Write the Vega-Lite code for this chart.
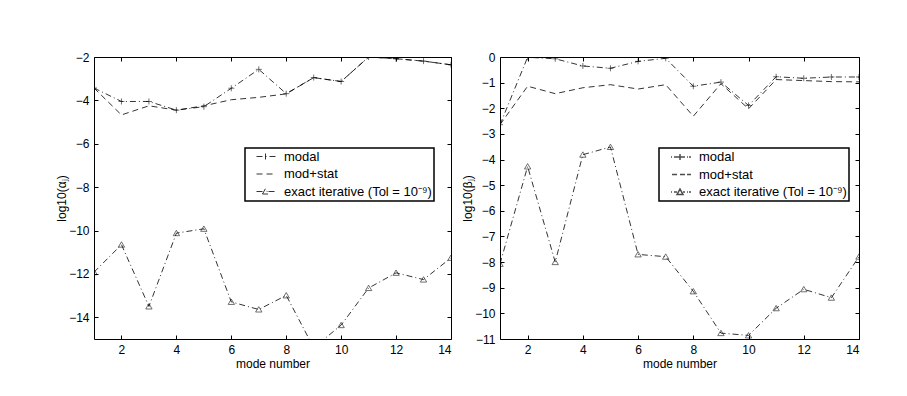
{
  "$schema": "https://vega.github.io/schema/vega-lite/v6.json",
  "background": "white",
  "padding": {"left": 55, "top": 50, "right": 5, "bottom": 5},
  "datasets": {
    "alpha": [
      {"mode": 1, "series": "modal", "value": -3.43},
      {"mode": 2, "series": "modal", "value": -4.05},
      {"mode": 3, "series": "modal", "value": -4.05},
      {"mode": 4, "series": "modal", "value": -4.45},
      {"mode": 5, "series": "modal", "value": -4.29},
      {"mode": 6, "series": "modal", "value": -3.44},
      {"mode": 7, "series": "modal", "value": -2.57},
      {"mode": 8, "series": "modal", "value": -3.69},
      {"mode": 9, "series": "modal", "value": -2.95},
      {"mode": 10, "series": "modal", "value": -3.13},
      {"mode": 11, "series": "modal", "value": -2.0},
      {"mode": 12, "series": "modal", "value": -2.08},
      {"mode": 13, "series": "modal", "value": -2.19},
      {"mode": 14, "series": "modal", "value": -2.36},
      {"mode": 1, "series": "mod+stat", "value": -3.43},
      {"mode": 2, "series": "mod+stat", "value": -4.67},
      {"mode": 3, "series": "mod+stat", "value": -4.25},
      {"mode": 4, "series": "mod+stat", "value": -4.45},
      {"mode": 5, "series": "mod+stat", "value": -4.25},
      {"mode": 6, "series": "mod+stat", "value": -3.97},
      {"mode": 7, "series": "mod+stat", "value": -3.86},
      {"mode": 8, "series": "mod+stat", "value": -3.7},
      {"mode": 9, "series": "mod+stat", "value": -2.95},
      {"mode": 10, "series": "mod+stat", "value": -3.13},
      {"mode": 11, "series": "mod+stat", "value": -2.0},
      {"mode": 12, "series": "mod+stat", "value": -2.08},
      {"mode": 13, "series": "mod+stat", "value": -2.19},
      {"mode": 14, "series": "mod+stat", "value": -2.36},
      {"mode": 1, "series": "exact iterative (Tol = 10⁻⁹)", "value": -11.92},
      {"mode": 2, "series": "exact iterative (Tol = 10⁻⁹)", "value": -10.65},
      {"mode": 3, "series": "exact iterative (Tol = 10⁻⁹)", "value": -13.5},
      {"mode": 4, "series": "exact iterative (Tol = 10⁻⁹)", "value": -10.12},
      {"mode": 5, "series": "exact iterative (Tol = 10⁻⁹)", "value": -9.92},
      {"mode": 6, "series": "exact iterative (Tol = 10⁻⁹)", "value": -13.29},
      {"mode": 7, "series": "exact iterative (Tol = 10⁻⁹)", "value": -13.64},
      {"mode": 8, "series": "exact iterative (Tol = 10⁻⁹)", "value": -12.99},
      {"mode": 9, "series": "exact iterative (Tol = 10⁻⁹)", "value": -15.4},
      {"mode": 10, "series": "exact iterative (Tol = 10⁻⁹)", "value": -14.36},
      {"mode": 11, "series": "exact iterative (Tol = 10⁻⁹)", "value": -12.65},
      {"mode": 12, "series": "exact iterative (Tol = 10⁻⁹)", "value": -11.95},
      {"mode": 13, "series": "exact iterative (Tol = 10⁻⁹)", "value": -12.26},
      {"mode": 14, "series": "exact iterative (Tol = 10⁻⁹)", "value": -11.26}
    ],
    "beta": [
      {"mode": 1, "series": "modal", "value": -2.64},
      {"mode": 2, "series": "modal", "value": -0.01},
      {"mode": 3, "series": "modal", "value": -0.07},
      {"mode": 4, "series": "modal", "value": -0.35},
      {"mode": 5, "series": "modal", "value": -0.44},
      {"mode": 6, "series": "modal", "value": -0.17},
      {"mode": 7, "series": "modal", "value": -0.05},
      {"mode": 8, "series": "modal", "value": -1.14},
      {"mode": 9, "series": "modal", "value": -0.98},
      {"mode": 10, "series": "modal", "value": -1.89},
      {"mode": 11, "series": "modal", "value": -0.77},
      {"mode": 12, "series": "modal", "value": -0.83},
      {"mode": 13, "series": "modal", "value": -0.78},
      {"mode": 14, "series": "modal", "value": -0.78},
      {"mode": 1, "series": "mod+stat", "value": -2.64},
      {"mode": 2, "series": "mod+stat", "value": -1.14},
      {"mode": 3, "series": "mod+stat", "value": -1.43},
      {"mode": 4, "series": "mod+stat", "value": -1.2},
      {"mode": 5, "series": "mod+stat", "value": -1.08},
      {"mode": 6, "series": "mod+stat", "value": -1.25},
      {"mode": 7, "series": "mod+stat", "value": -1.08},
      {"mode": 8, "series": "mod+stat", "value": -2.31},
      {"mode": 9, "series": "mod+stat", "value": -1.04},
      {"mode": 10, "series": "mod+stat", "value": -2.02},
      {"mode": 11, "series": "mod+stat", "value": -0.88},
      {"mode": 12, "series": "mod+stat", "value": -0.92},
      {"mode": 13, "series": "mod+stat", "value": -0.96},
      {"mode": 14, "series": "mod+stat", "value": -0.97},
      {"mode": 1, "series": "exact iterative (Tol = 10⁻⁹)", "value": -8.07},
      {"mode": 2, "series": "exact iterative (Tol = 10⁻⁹)", "value": -4.27},
      {"mode": 3, "series": "exact iterative (Tol = 10⁻⁹)", "value": -8.0},
      {"mode": 4, "series": "exact iterative (Tol = 10⁻⁹)", "value": -3.81},
      {"mode": 5, "series": "exact iterative (Tol = 10⁻⁹)", "value": -3.51},
      {"mode": 6, "series": "exact iterative (Tol = 10⁻⁹)", "value": -7.7},
      {"mode": 7, "series": "exact iterative (Tol = 10⁻⁹)", "value": -7.79},
      {"mode": 8, "series": "exact iterative (Tol = 10⁻⁹)", "value": -9.14},
      {"mode": 9, "series": "exact iterative (Tol = 10⁻⁹)", "value": -10.77},
      {"mode": 10, "series": "exact iterative (Tol = 10⁻⁹)", "value": -10.86},
      {"mode": 11, "series": "exact iterative (Tol = 10⁻⁹)", "value": -9.8},
      {"mode": 12, "series": "exact iterative (Tol = 10⁻⁹)", "value": -9.06},
      {"mode": 13, "series": "exact iterative (Tol = 10⁻⁹)", "value": -9.39},
      {"mode": 14, "series": "exact iterative (Tol = 10⁻⁹)", "value": -7.79}
    ]
  },
  "hconcat": [
    {
      "width": 357,
      "height": 282,
      "data": {"name": "alpha"},
      "layer": [
        {
          "mark": {"type": "line", "stroke": "black", "strokeWidth": 0.8, "clip": true},
          "encoding": {
            "x": {"field": "mode", "type": "quantitative", "scale": {"domain": [1, 14], "nice": false, "zero": false},
                  "axis": {"orient": "bottom", "values": [2, 4, 6, 8, 10, 12, 14], "title": "mode number", "titlePadding": 3, "labelPadding": 5}},
            "y": {"field": "value", "type": "quantitative", "scale": {"domain": [-15, -2], "nice": false, "zero": false},
                  "axis": {"orient": "left", "values": [-2, -4, -6, -8, -10, -12, -14], "title": "log10(αⱼ)", "titlePadding": 0, "labelPadding": 5}},
            "strokeDash": {"field": "series", "type": "nominal",
                           "scale": {"domain": ["mod+stat", "modal", "exact iterative (Tol = 10⁻⁹)"], "range": [[6, 4], [6, 3, 1, 3], [6, 3, 1, 3]]},
                           "legend": {"orient": "none", "legendX": 151, "legendY": 91, "title": null, "symbolSize": 144,
                                      "values": ["modal", "mod+stat", "exact iterative (Tol = 10⁻⁹)"],
                                      "labelOffset": 24, "rowPadding": 3.5,
                                      "encoding": {
                                        "symbols": {
                                          "shape": {"value": {"expr": "datum.value === 'modal' ? 'M0.5,0H3.83M2,-0.5V0.5' : datum.value === 'mod+stat' ? 'M0.5,0H3.83' : 'M0.5,0H1.5M2.5,0H3.83M1.5,0.42L2,-0.5L2.5,0.42Z'"}},
                                          "stroke": {"value": "black"}, "fill": {"value": "transparent"}, "strokeWidth": {"value": 0.8}},
                                        "legend": {"strokeWidth": {"value": 1.5}}}}}
          }
        },
        {
          "transform": [{"filter": "datum.series === 'modal'"}],
          "mark": {"type": "point", "shape": "M-1,0H1M0,-1V1", "size": 36, "filled": false, "stroke": "black", "strokeWidth": 0.8, "clip": true},
          "encoding": {
            "x": {"field": "mode", "type": "quantitative",
                  "axis": {"orient": "top", "values": [2, 4, 6, 8, 10, 12, 14], "labels": false, "title": null}},
            "y": {"field": "value", "type": "quantitative",
                  "axis": {"orient": "right", "values": [-2, -4, -6, -8, -10, -12, -14], "labels": false, "title": null}}
          }
        },
        {
          "transform": [{"filter": "datum.series !== 'modal' && datum.series !== 'mod+stat'"}],
          "mark": {"type": "point", "shape": "M-1,0.8L0,-0.9L1,0.8Z", "size": 40, "filled": false, "stroke": "black", "strokeWidth": 0.8, "clip": true},
          "encoding": {
            "x": {"field": "mode", "type": "quantitative", "axis": null},
            "y": {"field": "value", "type": "quantitative", "axis": null}
          }
        }
      ],
      "resolve": {"axis": {"x": "independent", "y": "independent"}}
    },
    {
      "width": 359,
      "height": 282,
      "data": {"name": "beta"},
      "layer": [
        {
          "mark": {"type": "line", "stroke": "black", "strokeWidth": 0.8, "clip": true},
          "encoding": {
            "x": {"field": "mode", "type": "quantitative", "scale": {"domain": [1, 14], "nice": false, "zero": false},
                  "axis": {"orient": "bottom", "values": [2, 4, 6, 8, 10, 12, 14], "title": "mode number", "titlePadding": 3, "labelPadding": 5}},
            "y": {"field": "value", "type": "quantitative", "scale": {"domain": [-11, 0], "nice": false, "zero": false},
                  "axis": {"orient": "left", "values": [0, -1, -2, -3, -4, -5, -6, -7, -8, -9, -10, -11], "title": "log10(βⱼ)", "titlePadding": 0, "labelPadding": 5}},
            "strokeDash": {"field": "series", "type": "nominal",
                           "scale": {"domain": ["mod+stat", "modal", "exact iterative (Tol = 10⁻⁹)"], "range": [[6, 4], [6, 3, 1, 3], [6, 3, 1, 3]]},
                           "legend": null}
          }
        },
        {
          "transform": [{"filter": "datum.series === 'modal'"}],
          "mark": {"type": "point", "shape": "M-1,0H1M0,-1V1", "size": 36, "filled": false, "stroke": "black", "strokeWidth": 0.8, "clip": true},
          "encoding": {
            "x": {"field": "mode", "type": "quantitative",
                  "axis": {"orient": "top", "values": [2, 4, 6, 8, 10, 12, 14], "labels": false, "title": null}},
            "y": {"field": "value", "type": "quantitative",
                  "axis": {"orient": "right", "values": [0, -1, -2, -3, -4, -5, -6, -7, -8, -9, -10, -11], "labels": false, "title": null}}
          }
        },
        {
          "transform": [{"filter": "datum.series !== 'modal' && datum.series !== 'mod+stat'"}],
          "mark": {"type": "point", "shape": "M-1,0.8L0,-0.9L1,0.8Z", "size": 40, "filled": false, "stroke": "black", "strokeWidth": 0.8, "clip": true},
          "encoding": {
            "x": {"field": "mode", "type": "quantitative", "axis": null},
            "y": {"field": "value", "type": "quantitative", "axis": null}
          }
        },
        {
          "mark": {"type": "point", "filled": false, "stroke": "black", "strokeWidth": 0.8, "size": 0},
          "encoding": {
            "x": {"field": "mode", "type": "quantitative", "axis": null},
            "y": {"field": "value", "type": "quantitative", "axis": null},
            "shape": {"field": "series", "type": "nominal",
                      "scale": {"domain": ["modal", "mod+stat", "exact iterative (Tol = 10⁻⁹)"],
                                "range": ["M0.5,0H0.67M1,0H2.83M3.17,0H3.33M3.5,0H3.83M2,-0.5V0.5",
                                          "M0.67,0H1.5M2,0H2.83M3.17,0H3.83",
                                          "M0.5,0H0.67M1,0H1.5M2.5,0H2.83M3.17,0H3.33M3.5,0H3.83M1.5,0.42L2,-0.5L2.5,0.42Z"]},
                      "legend": {"orient": "none", "legendX": 565, "legendY": 91, "title": null, "symbolSize": 144,
                                 "labelOffset": 24, "rowPadding": 3.5,
                                 "encoding": {"legend": {"strokeWidth": {"value": 1.5}}}}}
          }
        }
      ],
      "resolve": {"axis": {"x": "independent", "y": "independent"}}
    }
  ],
  "spacing": 49,
  "bounds": "flush",
  "config": {
    "font": "Liberation Sans",
    "view": {"stroke": "black", "strokeWidth": 1},
    "axis": {
      "labelFont": "Liberation Sans", "labelFontSize": 12, "labelColor": "black",
      "titleFont": "Liberation Sans", "titleFontSize": 12, "titleFontWeight": "normal", "titleColor": "black",
      "domain": false, "grid": false, "tickColor": "black", "tickSize": 4, "tickWidth": 1, "offset": -4
    },
    "legend": {
      "labelFont": "Liberation Sans", "labelFontSize": 13, "labelColor": "black",
      "padding": 2, "strokeColor": "black", "fillColor": "white"
    }
  }
}
